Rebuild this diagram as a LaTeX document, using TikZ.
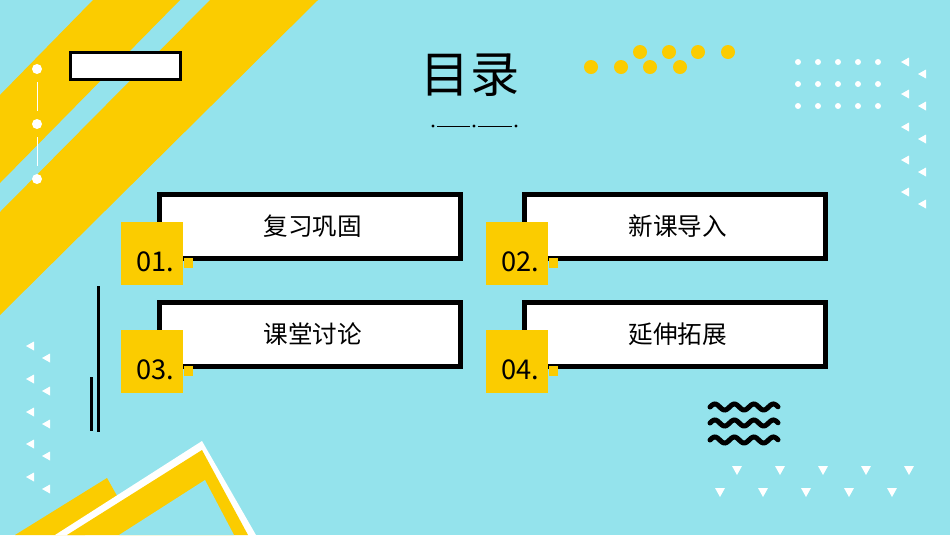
\documentclass[tikz,border=0pt]{standalone}
\usepackage{fontspec}
\newfontfamily\cjk{Noto Sans CJK SC}
\usetikzlibrary{calc}
\usetikzlibrary{positioning}
\definecolor{bgcyan}{HTML}{94E3EC}
\definecolor{sunny}{HTML}{FBCC00}
\tikzset{
  itembox/.style = {draw=black, fill=white, line width=5*0.02cm, minimum width=6.03cm, minimum height=1.28cm, anchor=north west, inner sep=0pt, font=\cjk\fontsize{14}{14}\selectfont},
  numbox/.style = {fill=sunny, minimum width=1.24cm, minimum height=1.26cm, anchor=north west, inner sep=0pt},
  numtext/.style = {font=\cjk\fontsize{15.5}{15.5}\selectfont, anchor=south west, inner sep=0pt},
}
\newcommand{\lefttri}[2]{\fill[white] (#1-4,#2) -- (#1+4,#2-4.5) -- (#1+4,#2+4.5) -- cycle;}
\newcommand{\downtri}[2]{\fill[white] (#1,#2+5) -- (#1-5,#2-4) -- (#1+5,#2-4) -- cycle;}
\begin{document}
\begin{tikzpicture}[x=0.02cm, y=-0.02cm]
      % background
      \fill[bgcyan] (0,0) rectangle (950,535);
      \useasboundingbox (0,0) rectangle (950,535);

      % stripes top left
      \fill[sunny] (93,0) -- (180,0) -- (0,183) -- (0,95) -- cycle;
      \fill[sunny] (210,0) -- (318,0) -- (0,315) -- (0,212) -- cycle;
      \draw[black, line width=3*0.02cm, fill=white] (70,52) rectangle (180,79);
      \foreach \y in {69,124,179}
        \fill[white] (37,\y) circle (5);
      \draw[white, line width=0.5pt] (37,82) -- (37,111) (37,137) -- (37,166);

      % title
      \node[font=\cjk\fontsize{28}{28}\selectfont] (title) at (470,75) {目录};
      \coordinate (t1) at (433,126);
      \coordinate (t2) at (474,126);
      \coordinate (t3) at (516,126);
      \foreach \p in {t1,t2,t3}
        \fill (\p) circle (1.6);
      \draw[line width=0.5pt] ($(t1)+(4,0)$) -- ($(t2)+(-4,0)$) ($(t2)+(4,0)$) -- ($(t3)+(-4,0)$);

      % yellow dots
      \foreach \x in {640,669,698,728}
        \fill[sunny] (\x,52) circle (7);
      \foreach \x in {591,621,650,680}
        \fill[sunny] (\x,67) circle (7);

      % white dot grid
      \foreach \x in {798,818,838,858,878}
        \foreach \y in {62,84,106}
          \fill[white] (\x,\y) circle (3);

      % triangles
      \foreach \y in {62,94,127,160,192}
        {\lefttri{905}{\y} \lefttri{922}{\y+12}}
      \foreach \y in {346,379,412,444,477}
        {\lefttri{30}{\y} \lefttri{46}{\y+12}}
      \foreach \x in {737,780,823,866,909}
        {\downtri{\x}{470}}
      \foreach \x in {720,763,806,849,892}
        {\downtri{\x}{492}}

      % black lines
      \draw[line width=3*0.02cm] (98,286) -- (98,432);
      \draw[line width=3*0.02cm] (91,377) -- (91,431);

      % waves
      \foreach \y in {407,423,440}
        \draw[line width=5*0.02cm, line cap=round, domain=0:68, samples=60, smooth]
          plot ({710+\x}, {\y-3*sin(\x*18.46)});

      % bottom left shapes
      \fill[sunny] (15,535) -- (107,478) -- (125,510) -- (85,535) -- cycle;
      \fill[white] (55,535) -- (202,441) -- (256,535) -- cycle;
      \fill[sunny] (67,535) -- (202,450) -- (248,535) -- cycle;
      \fill[bgcyan] (119,535) -- (205,480) -- (234,535) -- cycle;

      % items
      \node[itembox] (box1) at (157,192) {\hspace*{0.1cm}复习巩固};
      \node[itembox] (box2) at (522,192) {\hspace*{0.1cm}新课导入};
      \node[itembox] (box3) at (157,300) {\hspace*{0.1cm}课堂讨论};
      \node[itembox] (box4) at (522,300) {\hspace*{0.1cm}延伸拓展};
      \foreach \b/\n in {box1/01, box2/02, box3/03, box4/04}
        {
        \node[numbox] (num\n) at ($(\b.north west)+(-36,30)$) {};
        \fill[sunny] ($(num\n.north east)+(0,36)$) rectangle ++(9,10);
        \node[numtext] (lab\n) at ($(num\n.south west)+(15,-13)$) {\n.};
        }
\end{tikzpicture}
\end{document}
